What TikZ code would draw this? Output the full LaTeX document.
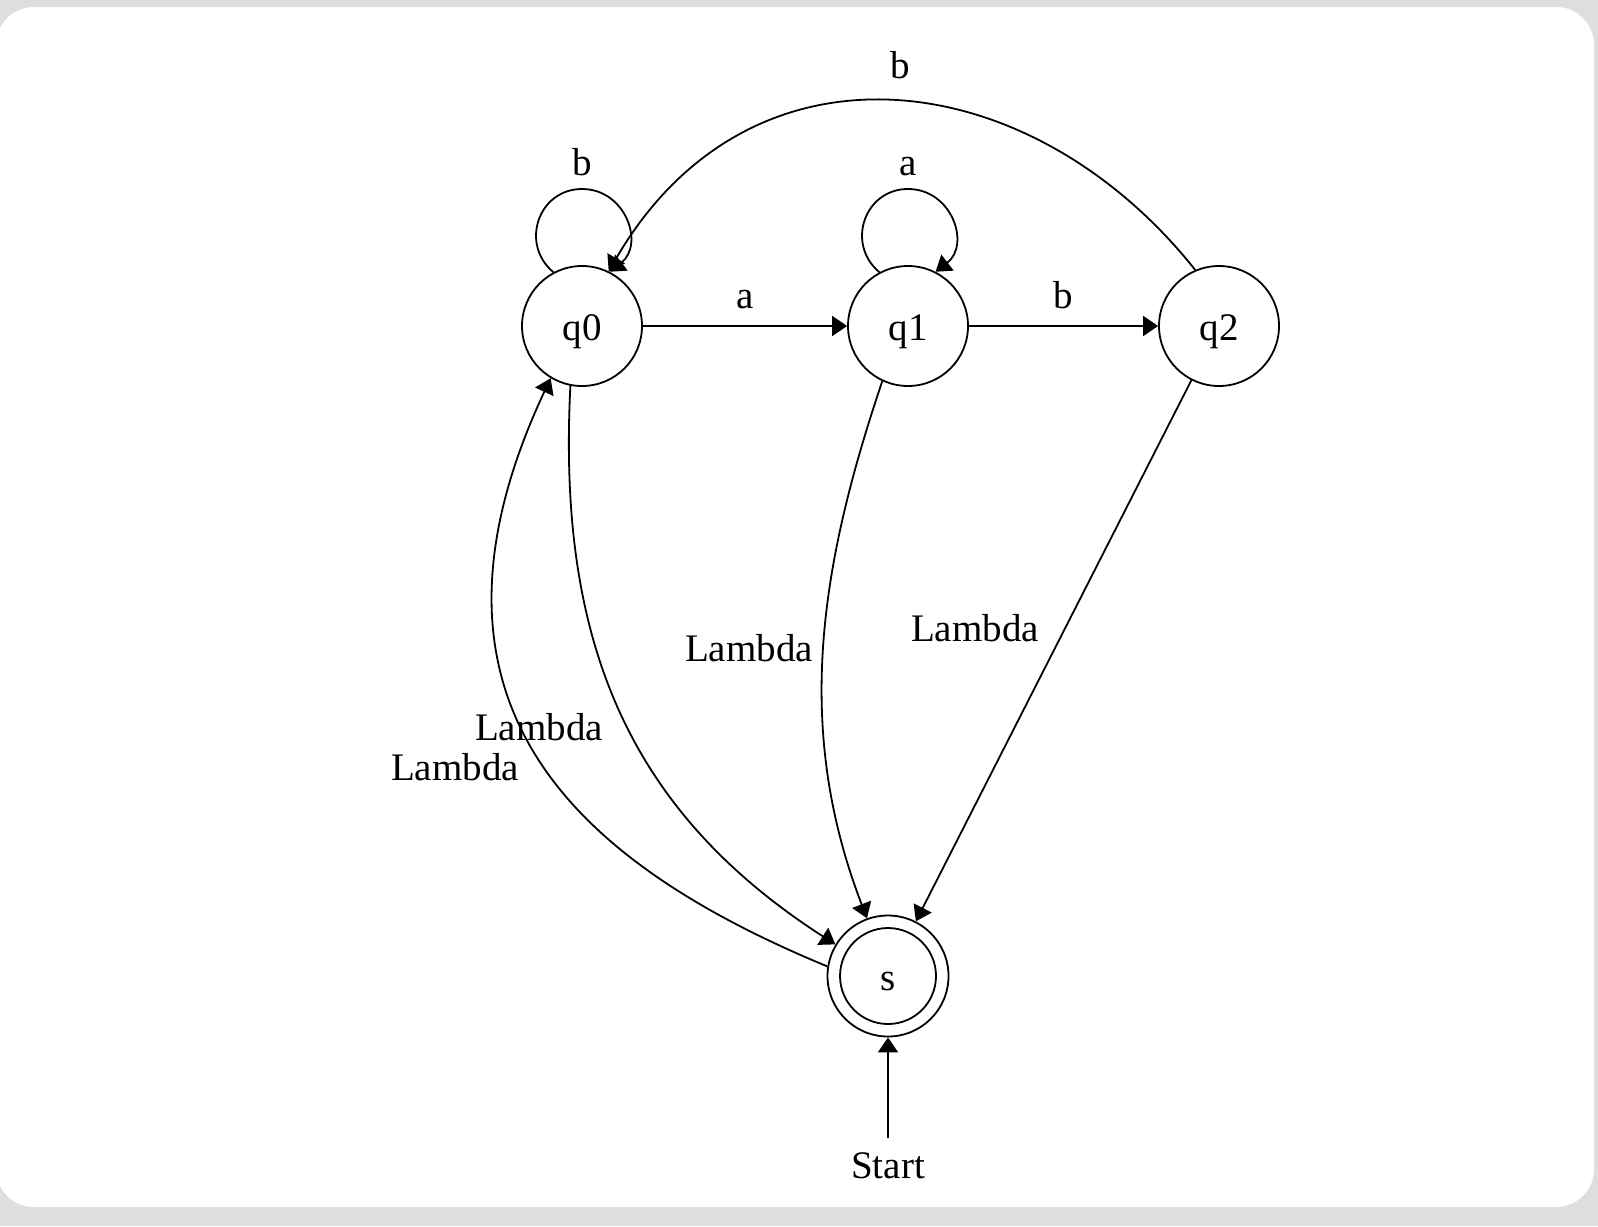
\documentclass[tikz,border=0pt]{standalone}
\usepackage{fontspec}
\setmainfont{Liberation Serif}
\usetikzlibrary{arrows.meta}
\definecolor{bggrey}{HTML}{DEDEDE}
\newcommand{\lblfont}{\fontsize{19.5pt}{23pt}\selectfont}
\begin{document}
\begin{tikzpicture}[x=0.5pt,y=-0.5pt,
  state/.style={circle,draw,line width=0.9pt,minimum size=60pt,inner sep=0pt,
                text height=14pt,text depth=0pt,font=\lblfont},
  edge/.style={line width=0.9pt,-{Triangle[length=7.5pt,width=10pt]}},
  lbl/.style={anchor=base,font=\lblfont,inner sep=0pt}]
\useasboundingbox (0,0) rectangle (1598,1226);
\fill[bggrey] (0,0) rectangle (1598,1226);
\fill[white,rounded corners=19pt] (-4,7) rectangle (1594,1207);

% states
\node[state] (q0) at (582,326) {q0};
\node[state] (q1) at (908,326) {q1};
\node[state] (q2) at (1219,326) {q2};
\node[state,minimum size=60.5pt] (s) at (888,976) {s};
\draw[line width=0.9pt] (s.center) circle[radius=24pt];
\coordinate (st) at (888,1138);
\node[lbl] (start) at (888,1178) {Start};

% straight transitions
\draw[edge] (q0.east) -- (q1.west);
\draw[edge] (q1.east) -- (q2.west);
\draw[edge] (st) -- (s.south);

% loops
\draw[edge] (q0.118) .. controls (519.4,243.8) and (538.6,189) .. (582,189)
  .. controls (625.9,189) and (644.8,244.5) .. (q0.63);
\draw[edge] (q1.118) .. controls (845.4,243.8) and (864.6,189) .. (908,189)
  .. controls (951.9,189) and (970.8,244.5) .. (q1.63);

% q2 -> q0 top arc
\draw[edge] (q2.113) .. controls (1030,62) and (750,28) .. (q0.64);

% lambda transitions
\draw[edge] (q0.259) .. controls (557.5,637) and (625,809) .. (s.149);
\draw[edge] (s.171) .. controls (570,860) and (400,700) .. (q0.239);
\draw[edge] (q1.245) .. controls (818,571.5) and (795,731) .. (s.110);
\draw[edge] (q2.243) -- (s.63);

% labels
\node[lbl] (lb0) at (582,175) {b};
\node[lbl] (la1) at (908,175) {a};
\node[lbl] (lbt) at (900,78) {b};
\node[lbl] (la01) at (745,308) {a};
\node[lbl] (lb12) at (1063,308) {b};
\node[lbl] (L1) at (749,661) {Lambda};
\node[lbl] (L2) at (539,740) {Lambda};
\node[lbl] (L3) at (455,780) {Lambda};
\node[lbl] (L4) at (975,641) {Lambda};
\end{tikzpicture}
\end{document}
